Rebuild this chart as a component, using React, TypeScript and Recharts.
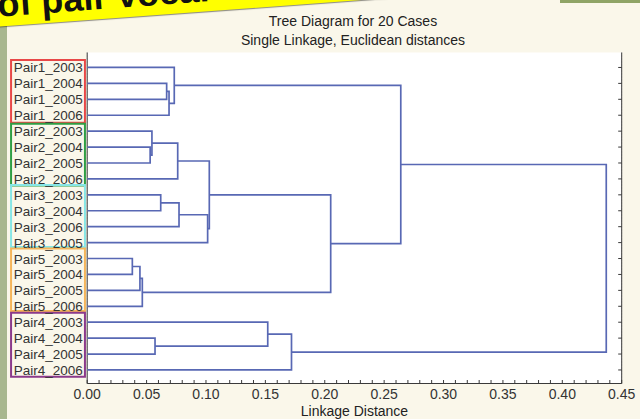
import React from 'react';
import { ComposedChart, Scatter, XAxis, YAxis, CartesianGrid, ReferenceArea } from 'recharts';

// ---- data ----
const leafLabels = [
  'Pair1_2003', 'Pair1_2004', 'Pair1_2005', 'Pair1_2006',
  'Pair2_2003', 'Pair2_2004', 'Pair2_2005', 'Pair2_2006',
  'Pair3_2003', 'Pair3_2004', 'Pair3_2006', 'Pair3_2005',
  'Pair5_2003', 'Pair5_2004', 'Pair5_2005', 'Pair5_2006',
  'Pair4_2003', 'Pair4_2004', 'Pair4_2005', 'Pair4_2006',
];

// merge steps: node ids < 20 are leaves, merge k creates node 20 + k
const mergeUpper = [1, 20, 0, 5, 4, 24, 8, 26, 27, 25, 12, 30, 31, 29, 22, 17, 16, 36, 34];
const mergeLower = [2, 3, 21, 6, 23, 7, 9, 10, 11, 28, 13, 14, 15, 32, 33, 18, 35, 19, 37];
const mergeDistance = [
  0.0669, 0.0689, 0.0733, 0.053, 0.0545, 0.0762, 0.0619, 0.0773, 0.1014, 0.1028,
  0.038, 0.0444, 0.0464, 0.205, 0.264, 0.0571, 0.152, 0.172, 0.437,
];

const majorTicks = [0, 0.05, 0.1, 0.15, 0.2, 0.25, 0.3, 0.35, 0.4, 0.45];
const minorTicks = Array.from({ length: 46 }, (_, i) => Math.round(i) / 100);

// group boxes around the leaf labels
const groupColors = ['#e84848', '#2f9e44', '#86e6e6', '#f5b55a', '#8b3a8b'];
const groupTop = [-0.47, 3.53, 7.38, 11.37, 15.41];
const groupBottom = [3.47, 7.42, 11.28, 15.3, 19.42];

// ---- dendrogram layout from the merge table ----
const nodePos: number[] = leafLabels.map((_, i) => i);
const nodeH: number[] = leafLabels.map(() => 0);
const links: { x: number; y: number }[][] = [];
mergeUpper.forEach((a, k) => {
  const b = mergeLower[k];
  const d = mergeDistance[k];
  links.push([
    { x: nodeH[a], y: nodePos[a] },
    { x: d, y: nodePos[a] },
    { x: d, y: nodePos[b] },
    { x: nodeH[b], y: nodePos[b] },
  ]);
  nodePos.push((nodePos[a] + nodePos[b]) / 2);
  nodeH.push(d);
});

const FONT = '"Liberation Sans", Arial, sans-serif';
const AXIS = '#3a3a3a';
const LINE = '#5868b4';
const Y_DOMAIN: [number, number] = [-0.94, 19.85];

const isMajor = (v: number) => Math.abs(v * 20 - Math.round(v * 20)) < 1e-6;

const BottomTick = (props: any) => {
  const { x, y, payload } = props;
  const v = payload.value as number;
  return (
    <g>
      <line x1={x} x2={x} y1={y} y2={y - 3.5} stroke={AXIS} strokeWidth={1} />
      {isMajor(v) && (
        <text x={x} y={y + 15.5} textAnchor="middle" fontSize={14} fill="#333" fontFamily={FONT}>
          {v.toFixed(2)}
        </text>
      )}
    </g>
  );
};

const TopTick = (props: any) => {
  const { x, y } = props;
  return <line x1={x} x2={x} y1={y} y2={y + 3.5} stroke={AXIS} strokeWidth={1} />;
};

const RightTick = (props: any) => {
  const { x, y } = props;
  return <line x1={x} x2={x - 3.5} y1={y} y2={y} stroke={AXIS} strokeWidth={1} />;
};

const LeftTick = (props: any) => {
  const { x, y, payload } = props;
  return (
    <text x={x - 4.5} y={y + 5} textAnchor="end" fontSize={13.5} fill="#333" fontFamily={FONT}>
      {leafLabels[payload.value]}
    </text>
  );
};

const Empty = () => <g />;

export default function App() {
  return (
    <div
      style={{
        position: 'absolute',
        left: 0,
        top: 0,
        width: 640,
        height: 419,
        overflow: 'hidden',
        background: '#faf7ea',
        fontFamily: FONT,
      }}
    >
      {/* photo edge strips */}
      <div style={{ position: 'absolute', left: 0, top: 20, width: 7, height: 400, background: '#a8b78f' }} />
      <div style={{ position: 'absolute', left: 560, top: 0, width: 80, height: 3, background: '#8fa466' }} />

      {/* yellow banner */}
      <div
        style={{
          position: 'absolute',
          left: -20,
          top: -32.5,
          width: 420,
          height: 60,
          background: '#ffff00',
          transformOrigin: 'left bottom',
          transform: 'rotate(-4.2deg)',
          boxShadow: '0 1px 1px rgba(0,0,0,0.45)',
        }}
      >
        <div
          style={{
            position: 'absolute',
            left: 19,
            bottom: 4.5,
            fontSize: 36,
            lineHeight: 1,
            fontWeight: 700,
            color: '#111',
            whiteSpace: 'nowrap',
            fontFamily: FONT,
          }}
        >
          of pair vocal
        </div>
      </div>

      {/* titles */}
      <div
        style={{
          position: 'absolute',
          left: 153,
          width: 400,
          top: 12,
          textAlign: 'center',
          fontSize: 14,
          lineHeight: '18.5px',
          color: '#222',
        }}
      >
        <div>Tree Diagram for 20 Cases</div>
        <div>Single Linkage, Euclidean distances</div>
      </div>

      <div style={{ position: 'absolute', left: 0, top: 0 }}>
        <ComposedChart width={640} height={419} margin={{ top: 52.5, right: 13.3, bottom: 0, left: 7.2 }}>
          <CartesianGrid
            xAxisId="top"
            yAxisId="left"
            horizontal={false}
            fill="#ffffff"
            fillOpacity={1}
            stroke="#cfcfcf"
            strokeDasharray="1 2"
          />
          <XAxis
            xAxisId="bottom"
            type="number"
            dataKey="x"
            domain={[0, 0.45]}
            ticks={minorTicks}
            interval={0}
            allowDataOverflow
            height={35.5}
            axisLine={{ stroke: AXIS, strokeWidth: 1 }}
            tickLine={false}
            tickSize={0}
            tickMargin={0}
            tick={<BottomTick />}
            label={{
              value: 'Linkage Distance',
              position: 'insideBottom',
              offset: 3,
              fontSize: 14,
              fill: '#222',
              fontFamily: FONT,
            }}
          />
          <XAxis
            xAxisId="top"
            orientation="top"
            type="number"
            domain={[0, 0.45]}
            ticks={majorTicks}
            interval={0}
            allowDataOverflow
            height={0}
            axisLine={{ stroke: AXIS, strokeWidth: 1 }}
            tickLine={false}
            tickSize={0}
            tickMargin={0}
            tick={<TopTick />}
          />
          <YAxis
            yAxisId="left"
            type="number"
            dataKey="y"
            domain={Y_DOMAIN}
            reversed
            allowDataOverflow
            ticks={leafLabels.map((_, i) => i)}
            interval={0}
            width={80}
            axisLine={{ stroke: AXIS, strokeWidth: 1 }}
            tickLine={false}
            tickSize={0}
            tickMargin={0}
            tick={<LeftTick />}
          />
          <YAxis
            yAxisId="right"
            orientation="right"
            type="number"
            domain={Y_DOMAIN}
            reversed
            allowDataOverflow
            ticks={leafLabels.map((_, i) => i)}
            interval={0}
            width={5}
            axisLine={{ stroke: AXIS, strokeWidth: 1 }}
            tickLine={false}
            tickSize={0}
            tickMargin={0}
            tick={<RightTick />}
          />
          {links.map((pts, i) => (
            <Scatter
              key={i}
              xAxisId="bottom"
              yAxisId="left"
              data={pts}
              line={{ stroke: LINE, strokeWidth: 1.7 }}
              lineJointType="linear"
              shape={<Empty />}
              isAnimationActive={false}
            />
          ))}
          {groupColors.map((c, g) => (
            <ReferenceArea
              key={g}
              xAxisId="bottom"
              yAxisId="left"
              x1={-0.0641}
              x2={-0.0019}
              y1={groupTop[g]}
              y2={groupBottom[g]}
              ifOverflow="visible"
              fill="none"
              fillOpacity={0}
              stroke={c}
              strokeWidth={2}
            />
          ))}
        </ComposedChart>
      </div>
    </div>
  );
}
